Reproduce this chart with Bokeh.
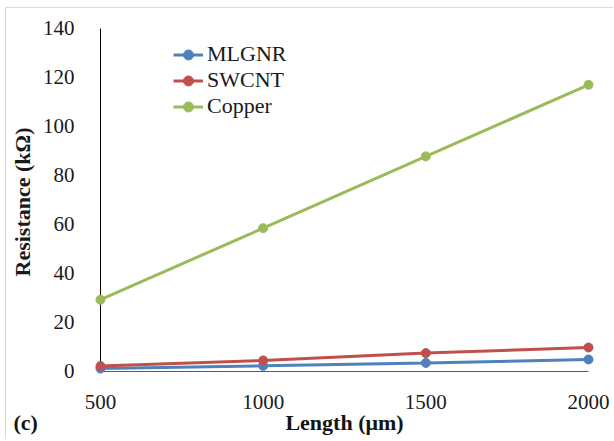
from bokeh.plotting import figure
from bokeh.models import Range1d, Label, Legend, LegendItem, FixedTicker
from bokeh.embed import file_html
from bokeh.resources import INLINE

lengths = [500, 1000, 1500, 2000]
mlgnr = [1.2, 2.3, 3.5, 4.9]
swcnt = [2.2, 4.5, 7.5, 9.8]
copper = [29.3, 58.5, 87.8, 117.0]
y_ticks = [0, 20, 40, 60, 80, 100, 120, 140]
x_ticks = [500, 1000, 1500, 2000]
panel_tag = "(c)"
x_title = "Length (μm)"
y_title = "Resistance (kΩ)"

FONT = "Liberation Serif"

p = figure(width=608, height=432, output_backend="svg", toolbar_location=None,
           x_range=Range1d(469.3, 2030.7), y_range=Range1d(-3.27, 141.63),
           min_border_left=84, min_border_right=16, min_border_top=16, min_border_bottom=61,
           styles={"margin-left": "5px", "margin-top": "7px",
                   "border-top": "1px solid #d9d9d9", "border-left": "1px solid #d9d9d9"})
p.outline_line_color = None
p.xgrid.visible = False
p.ygrid.visible = False
p.background_fill_color = "white"
p.border_fill_color = "white"

for ax in (p.xaxis[0], p.yaxis[0]):
    ax.axis_line_color = None
    ax.major_tick_line_color = None
    ax.minor_tick_line_color = None
    ax.major_label_text_font = FONT
    ax.major_label_text_font_size = "21px"
    ax.major_label_text_color = "#1a1a1a"
    ax.axis_label_text_font = FONT
    ax.axis_label_text_font_size = "22px"
    ax.axis_label_text_font_style = "bold"
    ax.axis_label_text_color = "#1a1a1a"
p.xaxis[0].ticker = FixedTicker(ticks=x_ticks)
p.yaxis[0].ticker = FixedTicker(ticks=y_ticks)
p.xaxis[0].major_label_standoff = 9
p.yaxis[0].major_label_standoff = 10
p.yaxis[0].axis_label = y_title
p.yaxis[0].axis_label_standoff = 5

# axis lines
p.segment(x0=[lengths[0]], y0=[0], x1=[lengths[-1]], y1=[0], line_color="#595959", line_width=1)
p.segment(x0=[lengths[0]], y0=[0], x1=[lengths[0]], y1=[y_ticks[-1]], line_color="black", line_width=1)

series = [("MLGNR", mlgnr, "#4F81BD"), ("SWCNT", swcnt, "#C0504D"), ("Copper", copper, "#9BBB59")]
items = []
for name, vals, col in series:
    l = p.line(lengths, vals, line_color=col, line_width=3)
    s = p.scatter(lengths, vals, size=9, fill_color=col, line_color=col)
    items.append(LegendItem(label=name, renderers=[l, s]))

leg = Legend(items=items, location=(83, 260), padding=0, margin=0, spacing=0,
             glyph_width=30, glyph_height=25, label_height=25, label_standoff=4,
             label_text_font=FONT, label_text_font_size="22px", label_text_color="#1a1a1a",
             background_fill_alpha=0, border_line_color=None)
p.add_layout(leg)

# bottom text row: panel tag at left, x-axis title under the plot centre
bottom_text = panel_tag + "\u00a0" * 45 + x_title
p.add_layout(Label(x=-77, y=14, x_units="screen", y_units="screen", text=bottom_text,
                   text_font=FONT, text_font_size="22px", text_font_style="bold",
                   text_align="left", text_baseline="middle", text_color="#141414"), "below")

open("out.html", "w").write(file_html(p, INLINE))
